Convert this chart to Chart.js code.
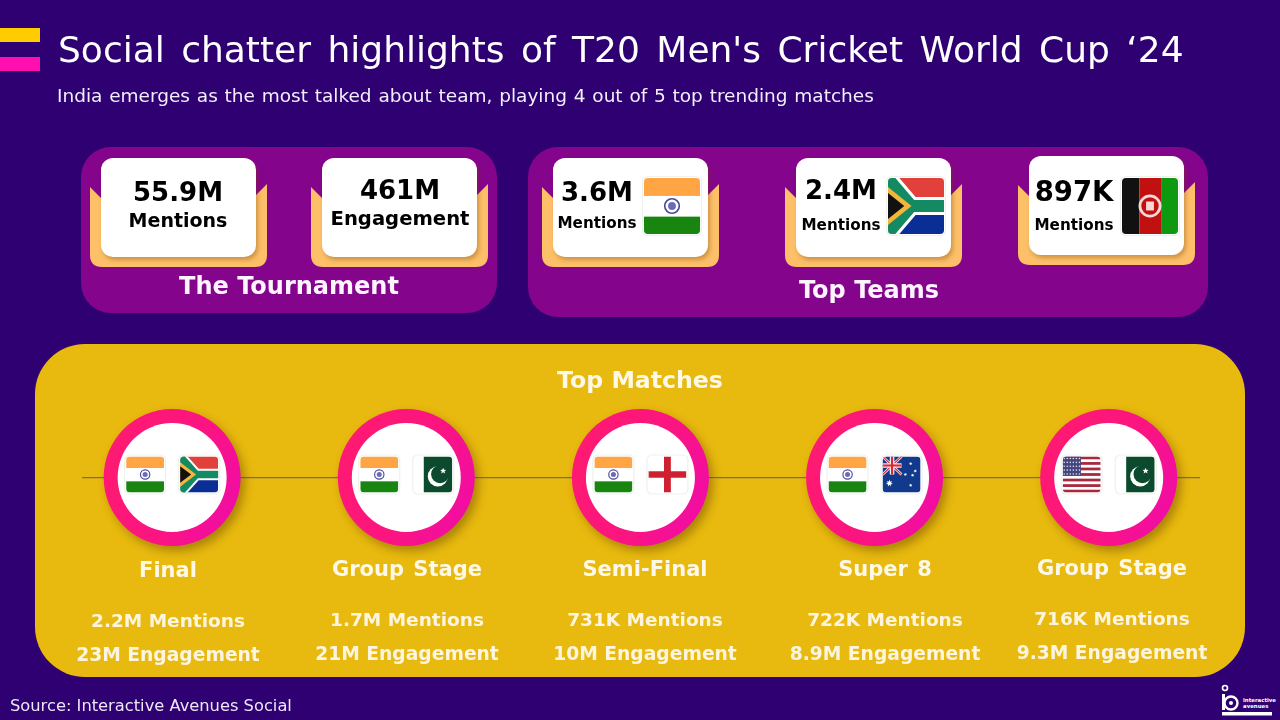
<!DOCTYPE html>
<html>
<head>
<meta charset="utf-8">
<title>Social chatter highlights</title>
<script src="https://cdn.jsdelivr.net/npm/chart.js@4/dist/chart.umd.min.js"></script>
<style>
  html, body { margin: 0; padding: 0; }
  body { width: 1280px; height: 720px; position: relative; overflow: hidden; background: #2e0072; font-family: "DejaVu Sans", sans-serif; }
  .box { position: absolute; }
  .card { position: absolute; background: #fff; border-radius: 12px; box-shadow: 2px 3px 4px rgba(120,60,0,.35); z-index: 1; }
  .tab { position: absolute; z-index: 1; overflow: visible; }
  .txt { position: absolute; white-space: nowrap; line-height: 1; z-index: 3; }
  #chart { position: absolute; left: 0; top: 0; z-index: 2; }
</style>
</head>
<body>
<canvas id="chart" width="1280" height="720"></canvas>
<script>
const matchOrder = [1, 2, 3, 4, 5];
const matchStages = ["Final", "Group Stage", "Semi-Final", "Super 8", "Group Stage"];
const matchMentions = ["2.2M", "1.7M", "731K", "722K", "716K"];
const matchEngagement = ["23M", "21M", "10M", "8.9M", "9.3M"];
const matchFlags = [["in", "za"], ["in", "pk"], ["in", "en"], ["in", "au"], ["us", "pk"]];

const tournamentValues = ["55.9M", "461M"];
const tournamentLabels = ["Mentions", "Engagement"];

const teamMentions = ["3.6M", "2.4M", "897K"];
const teamFlags = ["in", "za", "af"];

// ---- page layout, in pixels of the 1280x720 slide ----
const body = document.body;

function box(x, y, w, h, color, radius) {
  const d = document.createElement("div");
  d.className = "box";
  d.style.cssText = `left:${x}px;top:${y}px;width:${w}px;height:${h}px;background:${color};border-radius:${radius}px`;
  body.appendChild(d);
}

function text(str, x, y, size, bold, color, align, extra) {
  const d = document.createElement("div");
  d.className = "txt";
  d.textContent = str;
  const tx = align === "left" ? "0" : "-50%";
  d.style.cssText = `left:${x}px;top:${y}px;font-size:${size}px;font-weight:${bold ? 700 : 400};color:${color};transform:translate(${tx},-50%);${extra || ""}`;
  body.appendChild(d);
}

function card(x, y) {
  // x, y = top-left of the orange tab's left edge block; card sits inside it
  const svg = document.createElementNS("http://www.w3.org/2000/svg", "svg");
  svg.setAttribute("class", "tab");
  svg.setAttribute("width", 178);
  svg.setAttribute("height", 84);
  svg.style.left = x + "px";
  svg.style.top = y + "px";
  svg.innerHTML = '<path fill="#fdc068" d="M0,3 L11,14 L166,11 L177,0 L177,71 Q177,83 165,83 L12,83 Q0,83 0,71 Z"/>';
  body.appendChild(svg);
  const c = document.createElement("div");
  c.className = "card";
  c.style.cssText = `left:${x + 11}px;top:${y - 26}px;width:155px;height:99px`;
  body.appendChild(c);
}

box(0, 28, 40, 14, "#ffcc00", 0);
box(0, 57, 40, 14, "#ff0fb0", 0);
text("Social chatter highlights of T20 Men's Cricket World Cup ‘24", 58, 50, 36, false, "#fff", "left", "word-spacing:5px");
text("India emerges as the most talked about team, playing 4 out of 5 top trending matches", 57, 96, 18.5, false, "#f2eefa", "left", "word-spacing:.9px");

box(81, 147, 416, 166, "#85048c", 30);
box(528, 147, 680, 170, "#85048c", 30);
box(35, 344, 1210, 333, "#e8b90e", 50);

card(90, 184);
card(311, 184);
text(tournamentValues[0], 178, 192, 26, true, "#000");
text(tournamentLabels[0], 178, 220, 19, true, "#000");
text(tournamentValues[1], 400, 190, 26, true, "#000");
text(tournamentLabels[1], 400, 219, 19.6, true, "#000");
text("The Tournament", 289, 286, 24, true, "#fdf4ff");

card(542, 184);
card(785, 184);
card(1018, 182);
const teamTextX = [597, 841, 1074];
const teamValueY = [192, 190, 192];
const teamLabelY = [224, 226, 226];
teamMentions.forEach((v, i) => {
  text(v, teamTextX[i], teamValueY[i], i === 2 ? 27.5 : 26, true, "#000");
  text("Mentions", teamTextX[i], teamLabelY[i], 15.2, true, "#000");
});
text("Top Teams", 869, 290, 24, true, "#fdf4ff");
text("Top Matches", 640, 381, 23.6, true, "#fdf8e8");

const labelX = [168, 407, 645, 885, 1112];
const labelY = [570, 569, 569, 569, 568];
matchStages.forEach((s, i) => {
  text(s, labelX[i], labelY[i], 21, true, "#fdf8e8", "center", "word-spacing:2px");
  text(matchMentions[i] + " Mentions", labelX[i], labelY[i] + 51, 18.5, true, "#fdf5e0");
  text(matchEngagement[i] + " Engagement", labelX[i], labelY[i] + 85, 18.7, true, "#fdf5e0");
});

text("Source: Interactive Avenues Social", 10, 706, 16.3, false, "#ece6f5", "left");

// logo
const logo = document.createElementNS("http://www.w3.org/2000/svg", "svg");
logo.setAttribute("class", "tab");
logo.setAttribute("width", 60);
logo.setAttribute("height", 36);
logo.style.left = "1220px";
logo.style.top = "684px";
logo.innerHTML = '<circle cx="5" cy="4" r="2.5" fill="none" stroke="#fff" stroke-width="1.6"/>' +
  '<rect x="2" y="10" width="3" height="16" fill="#fff"/>' +
  '<circle cx="11" cy="19" r="6.5" fill="none" stroke="#fff" stroke-width="2.4"/>' +
  '<circle cx="11" cy="19" r="2" fill="#fff"/>' +
  '<rect x="2" y="28" width="50" height="3.5" fill="#fff"/>' +
  '<text x="23" y="18" font-size="5.4" font-weight="700" fill="#fff" font-family="DejaVu Sans">interactive</text>' +
  '<text x="23" y="24" font-size="5.4" font-weight="700" fill="#fff" font-family="DejaVu Sans">avenues</text>';
body.appendChild(logo);

// ---- flags ----
function star(ctx, x, y, r, color, pts) {
  pts = pts || 5;
  ctx.fillStyle = color;
  ctx.beginPath();
  for (let i = 0; i < pts * 2; i++) {
    const a = -Math.PI / 2 + i * Math.PI / pts;
    const rr = i % 2 ? r * 0.45 : r;
    ctx.lineTo(x + rr * Math.cos(a), y + rr * Math.sin(a));
  }
  ctx.closePath();
  ctx.fill();
}

const flagPainters = {
  in(ctx, w, h) {
    ctx.fillStyle = "#fff"; ctx.fillRect(0, 0, w, h);
    ctx.fillStyle = "#ffa544"; ctx.fillRect(0, 0, w, h * 0.32);
    ctx.fillStyle = "#17850f"; ctx.fillRect(0, h * 0.69, w, h * 0.31);
    ctx.strokeStyle = "#4a4a9c"; ctx.lineWidth = Math.max(1, w * 0.03);
    ctx.beginPath(); ctx.arc(w / 2, h / 2, h * 0.13, 0, 7); ctx.stroke();
    ctx.fillStyle = "#6a6ab8";
    ctx.beginPath(); ctx.arc(w / 2, h / 2, h * 0.07, 0, 7); ctx.fill();
  },
  za(ctx, w, h) {
    ctx.fillStyle = "#e2403a"; ctx.fillRect(0, 0, w, h / 2);
    ctx.fillStyle = "#0a2d96"; ctx.fillRect(0, h / 2, w, h / 2);
    ctx.lineJoin = "miter";
    const y = (lw, col) => {
      ctx.strokeStyle = col; ctx.lineWidth = lw;
      ctx.beginPath();
      ctx.moveTo(-w * 0.05, -h * 0.05); ctx.lineTo(w * 0.42, h / 2); ctx.lineTo(-w * 0.05, h * 1.05);
      ctx.moveTo(w * 0.42, h / 2); ctx.lineTo(w * 1.05, h / 2);
      ctx.stroke();
    };
    y(h * 0.32, "#fff");
    y(h * 0.21, "#148a62");
    ctx.fillStyle = "#f4b63a";
    ctx.beginPath(); ctx.moveTo(0, h * 0.16); ctx.lineTo(w * 0.42, h / 2); ctx.lineTo(0, h * 0.84); ctx.fill();
    ctx.fillStyle = "#111";
    ctx.beginPath(); ctx.moveTo(0, h * 0.27); ctx.lineTo(w * 0.29, h / 2); ctx.lineTo(0, h * 0.73); ctx.fill();
  },
  pk(ctx, w, h) {
    ctx.fillStyle = "#fff"; ctx.fillRect(0, 0, w, h);
    ctx.fillStyle = "#0b4a2c"; ctx.fillRect(w * 0.25, 0, w * 0.75, h);
    const cx = w * 0.62, cy = h * 0.55;
    ctx.fillStyle = "#fff";
    ctx.beginPath(); ctx.arc(cx, cy, h * 0.28, 0, 7); ctx.fill();
    ctx.fillStyle = "#0b4a2c";
    ctx.beginPath(); ctx.arc(cx + w * 0.06, cy - h * 0.06, h * 0.25, 0, 7); ctx.fill();
    star(ctx, w * 0.76, h * 0.4, h * 0.09, "#fff");
  },
  en(ctx, w, h) {
    ctx.fillStyle = "#fff"; ctx.fillRect(0, 0, w, h);
    ctx.fillStyle = "#cf2030";
    ctx.fillRect(w * 0.41, 0, w * 0.18, h);
    ctx.fillRect(0, h * 0.41, w, h * 0.18);
  },
  au(ctx, w, h) {
    ctx.fillStyle = "#123a8c"; ctx.fillRect(0, 0, w, h);
    const uw = w * 0.5, uh = h * 0.5;
    ctx.strokeStyle = "#fff"; ctx.lineWidth = h * 0.07;
    ctx.beginPath(); ctx.moveTo(0, 0); ctx.lineTo(uw, uh); ctx.moveTo(uw, 0); ctx.lineTo(0, uh); ctx.stroke();
    ctx.strokeStyle = "#d8283a"; ctx.lineWidth = h * 0.03;
    ctx.beginPath(); ctx.moveTo(0, 0); ctx.lineTo(uw, uh); ctx.moveTo(uw, 0); ctx.lineTo(0, uh); ctx.stroke();
    ctx.fillStyle = "#fff";
    ctx.fillRect(uw * 0.38, 0, uw * 0.24, uh); ctx.fillRect(0, uh * 0.38, uw, uh * 0.24);
    ctx.fillStyle = "#d8283a";
    ctx.fillRect(uw * 0.44, 0, uw * 0.12, uh); ctx.fillRect(0, uh * 0.44, uw, uh * 0.12);
    star(ctx, w * 0.18, h * 0.74, h * 0.1, "#fff", 7);
    [[0.74, 0.2], [0.86, 0.4], [0.6, 0.5], [0.74, 0.8], [0.79, 0.52]].forEach(p => star(ctx, w * p[0], h * p[1], h * 0.05, "#fff", 7));
  },
  us(ctx, w, h) {
    ctx.fillStyle = "#fff"; ctx.fillRect(0, 0, w, h);
    ctx.fillStyle = "#a8283f";
    for (let i = 0; i < 7; i++) ctx.fillRect(0, i * 2 * h / 13, w, h / 13);
    ctx.fillStyle = "#46467f"; ctx.fillRect(0, 0, w * 0.48, h * 7 / 13);
    ctx.fillStyle = "#dcdcf0";
    for (let r = 0; r < 5; r++) for (let c = 0; c < 6; c++) {
      ctx.beginPath(); ctx.arc((c + 0.5) * w * 0.08, (r + 0.5) * h * 0.108, 0.8, 0, 7); ctx.fill();
    }
  },
  af(ctx, w, h) {
    ctx.fillStyle = "#111"; ctx.fillRect(0, 0, w * 0.31, h);
    ctx.fillStyle = "#c01010"; ctx.fillRect(w * 0.31, 0, w * 0.4, h);
    ctx.fillStyle = "#0e9a10"; ctx.fillRect(w * 0.71, 0, w * 0.29, h);
    ctx.strokeStyle = "#f6d8d8"; ctx.lineWidth = w * 0.05;
    ctx.beginPath(); ctx.arc(w / 2, h / 2, h * 0.18, 0, 7); ctx.stroke();
    ctx.fillStyle = "#f6d8d8";
    ctx.fillRect(w * 0.43, h * 0.42, w * 0.14, h * 0.16);
  }
};

function drawFlag(ctx, code, x, y, w, h) {
  ctx.save();
  ctx.fillStyle = "#fff";
  ctx.strokeStyle = "#eef1ee";
  ctx.lineWidth = 1.2;
  ctx.beginPath(); ctx.roundRect(x - 1.5, y - 1.5, w + 3, h + 3, 5); ctx.fill(); ctx.stroke();
  ctx.beginPath(); ctx.roundRect(x, y, w, h, 4); ctx.clip();
  ctx.translate(x, y);
  flagPainters[code](ctx, w, h);
  ctx.restore();
}

// shadow under the pink rings, flags on top of the white discs and cards
const slidePlugin = {
  id: "slide",
  beforeDatasetDraw(chart, args) {
    if (args.index === 1) {
      const ctx = chart.ctx;
      ctx.save();
      ctx.shadowColor = "rgba(80,50,0,.4)";
      ctx.shadowBlur = 10;
      ctx.shadowOffsetX = 4;
      ctx.shadowOffsetY = 5;
    }
  },
  afterDatasetDraw(chart, args) {
    if (args.index === 1) chart.ctx.restore();
  },
  afterDatasetsDraw(chart) {
    const ctx = chart.ctx;
    const cy = chart.scales.y.getPixelForValue(0);
    matchOrder.forEach((o, i) => {
      const cx = chart.scales.x.getPixelForValue(o);
      drawFlag(ctx, matchFlags[i][0], cx - 46, cy - 21, 38, 36);
      drawFlag(ctx, matchFlags[i][1], cx + 8, cy - 21, 38, 36);
    });
    drawFlag(ctx, teamFlags[0], 644, 178, 56, 56);
    drawFlag(ctx, teamFlags[1], 888, 178, 56, 56);
    drawFlag(ctx, teamFlags[2], 1122, 178, 56, 56);
  }
};

function ringColor(c) {
  if (c.type !== "data" || !c.chart.chartArea) return "#fa1488";
  const x = c.chart.scales.x.getPixelForValue(matchOrder[c.dataIndex]);
  const y = c.chart.scales.y.getPixelForValue(0);
  const g = c.chart.ctx.createLinearGradient(x - 68, y - 30, x + 68, y + 30);
  g.addColorStop(0, "#ff1a70");
  g.addColorStop(0.6, "#fb1482");
  g.addColorStop(1, "#f00ca8");
  return g;
}

const points = matchOrder.map(o => ({ x: o, y: 0 }));

new Chart(document.getElementById("chart"), {
  type: "scatter",
  data: {
    datasets: [
      { label: "disc", data: points, pointRadius: 54.5, backgroundColor: "#fff", borderWidth: 0, clip: false },
      { label: "ring", data: points, pointRadius: 68.5, backgroundColor: ringColor, borderWidth: 0, clip: false }
    ]
  },
  options: {
    responsive: false,
    animation: false,
    events: [],
    layout: { padding: { left: 82, right: 80, top: 398, bottom: 163 } },
    plugins: { legend: { display: false }, tooltip: { enabled: false } },
    scales: {
      x: {
        type: "linear",
        min: 0.615,
        max: 5.39,
        display: false
      },
      y: {
        type: "linear",
        min: -1,
        max: 1,
        display: true,
        afterBuildTicks: s => { s.ticks = [{ value: 0 }]; },
        ticks: { display: false },
        grid: { color: "#6f6f70", lineWidth: 1.2, drawTicks: false },
        border: { display: false }
      }
    }
  },
  plugins: [slidePlugin]
});
</script>
</body>
</html>
